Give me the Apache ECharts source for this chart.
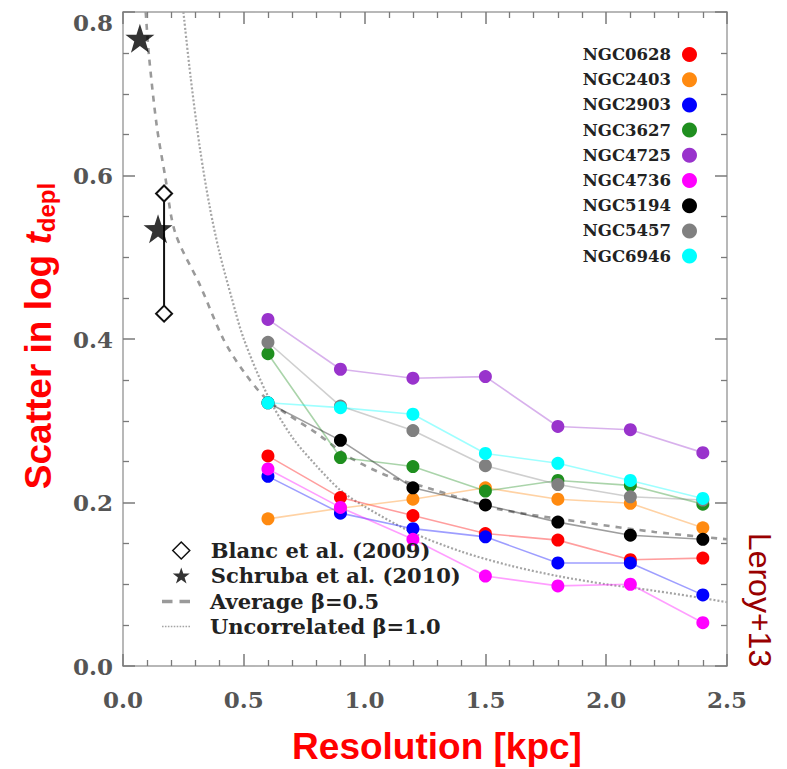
<!DOCTYPE html>
<html><head><meta charset="utf-8">
<script src="https://cdn.jsdelivr.net/npm/echarts@6/dist/echarts.min.js"></script>
<style>html,body{margin:0;padding:0;background:#fff}#c{width:787px;height:769px}</style>
</head><body><div id="c"></div>
<script>
// ---------------- data ----------------
const resolution = [0.6, 0.9, 1.2, 1.5, 1.8, 2.1, 2.4];
const galaxyNames = ['NGC0628','NGC2403','NGC2903','NGC3627','NGC4725','NGC4736','NGC5194','NGC5457','NGC6946'];
const ngc0628 = [0.257, 0.206, 0.184, 0.162, 0.154, 0.130, 0.132];
const ngc2403 = [0.180, 0.193, 0.204, 0.218, 0.204, 0.199, 0.169];
const ngc2903 = [0.232, 0.187, 0.168, 0.158, 0.126, 0.126, 0.087];
const ngc3627 = [0.382, 0.255, 0.244, 0.214, 0.227, 0.221, 0.198];
const ngc4725 = [0.424, 0.363, 0.352, 0.354, 0.293, 0.289, 0.261];
const ngc4736 = [0.241, 0.194, 0.155, 0.110, 0.098, 0.100, 0.053];
const ngc5194 = [0.322, 0.276, 0.218, 0.197, 0.176, 0.160, 0.155];
const ngc5457 = [0.396, 0.318, 0.288, 0.245, 0.222, 0.207, 0.203];
const ngc6946 = [0.322, 0.316, 0.308, 0.260, 0.248, 0.227, 0.205];
const galaxyValues = [ngc0628, ngc2403, ngc2903, ngc3627, ngc4725, ngc4736, ngc5194, ngc5457, ngc6946];

const blancX = [0.17, 0.17];
const blancY = [0.431, 0.578];
const schrubaX = [0.07, 0.145];
const schrubaY = [0.768, 0.535];

const avgX = [0.094, 0.108, 0.14, 0.174, 0.216, 0.32, 0.415, 0.5, 0.6, 0.8, 0.94, 1.1, 1.26, 1.4, 1.55, 1.9, 2.2, 2.5];
const avgY = [0.800, 0.745, 0.660, 0.600, 0.530, 0.465, 0.400, 0.360, 0.325, 0.285, 0.255, 0.232, 0.218, 0.205, 0.192, 0.176, 0.164, 0.155];
const uncX = [0.25, 0.28, 0.32, 0.36, 0.40, 0.45, 0.50, 0.60, 0.70, 0.80, 0.90, 1.0, 1.2, 1.4, 1.6, 1.8, 2.0, 2.2, 2.4, 2.5];
const uncY = [0.800, 0.720, 0.630, 0.560, 0.505, 0.450, 0.400, 0.330, 0.280, 0.245, 0.215, 0.195, 0.163, 0.140, 0.123, 0.110, 0.100, 0.092, 0.083, 0.078];

const xTickLabels = ['0.0','0.5','1.0','1.5','2.0','2.5'];
const yTickLabels = ['0.0','0.2','0.4','0.6','0.8'];
const refNames = ['Blanc et al. (2009)', 'Schruba et al. (2010)', 'Average \u03B2=0.5', 'Uncorrelated \u03B2=1.0'];

// ---------------- styles ----------------
const galaxyColors = ['#ff0000','#ff8a10','#0000ff','#1f8f1f','#9933cc','#ff00ff','#000000','#808080','#00ffff'];
const STAR = 'path://M50,2 L61.8,37.3 L99,37.6 L69.1,59.7 L80.4,95.2 L50,73.6 L19.6,95.2 L30.9,59.7 L1,37.6 L38.2,37.3 Z';
const DASH_ICON = 'path://M0,0h9v3h-9z M15,0h9v3h-9z';
let dots = '';
for (let i = 0; i < 30; i += 3) dots += 'M' + i + ',0h1.6v1.6h-1.6z ';
const DOT_ICON = 'path://' + dots;
const serifFont = 'DejaVu Serif';
const TICK_COLOR = '#7a7a7a';
const pair = (xs, ys) => xs.map((x, i) => [x, ys[i]]);

function lookupLabel(labels, step, v) {
  const i = Math.round(v / step);
  if (i >= 0 && i < labels.length && Math.abs(v - i * step) < 1e-6) return labels[i];
  return (+v).toFixed(1);
}

const chart = echarts.init(document.getElementById('c'), null, {renderer: 'svg'});

function axisParts(split, onZeroFalse) {
  const o = {
    axisLine: {show: true, lineStyle: {color: '#a0a0a0', width: 1.5}},
    axisTick: {show: true, inside: true, length: 12, lineStyle: {color: TICK_COLOR, width: 1.5}},
    minorTick: {show: true, splitNumber: split, length: 6, lineStyle: {color: TICK_COLOR, width: 1.3}},
    splitLine: {show: false},
    minorSplitLine: {show: false}
  };
  if (onZeroFalse) o.axisLine.onZero = false;
  return o;
}
const labelFont = {color: '#555', fontFamily: serifFont, fontWeight: 'bold', fontSize: 23};

const series = [];
series.push({
  name: refNames[3], type: 'line', smooth: 0.3, showSymbol: false, symbol: 'none',
  data: pair(uncX, uncY), silent: true, z: 1,
  itemStyle: {color: '#a5a5a5'},
  lineStyle: {color: '#a5a5a5', width: 2.2, type: [2, 2]}
});
series.push({
  name: refNames[2], type: 'line', smooth: 0.3, showSymbol: false, symbol: 'none',
  data: pair(avgX, avgY), silent: true, z: 1,
  itemStyle: {color: '#9a9a9a'},
  lineStyle: {color: '#9a9a9a', width: 2.6, type: [6, 6]}
});
galaxyNames.forEach((name, k) => {
  series.push({
    name: name, type: 'line', z: 3,
    data: pair(resolution, galaxyValues[k]),
    symbol: 'circle', symbolSize: 13, showSymbol: true,
    itemStyle: {color: galaxyColors[k], opacity: 1},
    lineStyle: {color: galaxyColors[k], width: 1.6, opacity: 0.38}
  });
});
series.push({
  name: refNames[0], type: 'line', z: 4,
  data: pair(blancX, blancY),
  symbol: 'emptyDiamond', symbolSize: [16, 16],
  itemStyle: {color: '#111', borderWidth: 2},
  lineStyle: {color: '#111', width: 2}
});
series.push({
  name: refNames[1], type: 'scatter', z: 5,
  data: pair(schrubaX, schrubaY),
  symbol: STAR, symbolSize: 29,
  itemStyle: {color: '#000'}
});

const option = {
  animation: false,
  backgroundColor: '#fff',
  grid: {left: 123, top: 12, right: 60, bottom: 103},
  xAxis: [
    Object.assign({
      type: 'value', min: 0, max: 2.5, interval: 0.5, position: 'bottom',
      axisLabel: Object.assign({margin: 22,
        formatter: v => lookupLabel(xTickLabels, 0.5, v)}, labelFont)
    }, axisParts(5, false)),
    Object.assign({
      type: 'value', min: 0, max: 2.5, interval: 0.5, position: 'top',
      axisLabel: {show: false}
    }, axisParts(5, true))
  ],
  yAxis: [
    Object.assign({
      type: 'value', min: 0, max: 0.8, interval: 0.2, position: 'left',
      axisLabel: Object.assign({margin: 10,
        formatter: v => {
          const s = lookupLabel(yTickLabels, 0.2, v);
          return v > 0.79 ? '{top|' + s + '}' : s;
        },
        rich: {top: Object.assign({padding: [20, 0, 0, 0]}, labelFont)}
      }, labelFont)
    }, axisParts(4, false)),
    Object.assign({
      type: 'value', min: 0, max: 0.8, interval: 0.2, position: 'right',
      axisLabel: {show: false}
    }, axisParts(4, true))
  ],
  legend: [
    {
      data: galaxyNames.map(n => ({name: n, icon: 'circle'})),
      orient: 'vertical', right: 90, top: 46, align: 'right',
      itemWidth: 27, itemHeight: 15, itemGap: 8.2, padding: 0,
      symbolKeepAspect: true, selectedMode: false,
      textStyle: {color: '#222', fontFamily: serifFont, fontWeight: 'bold', fontSize: 16.5}
    },
    {
      data: [
        {name: refNames[0], icon: 'diamond', itemStyle: {color: '#fff', borderColor: '#111', borderWidth: 1.5}},
        {name: refNames[1], icon: STAR, itemStyle: {color: '#000'}}
      ],
      orient: 'vertical', left: 172, top: 540, align: 'left',
      itemWidth: 17, itemHeight: 17, itemGap: 4, padding: 0,
      symbolKeepAspect: true, selectedMode: false,
      textStyle: {color: '#222', fontFamily: serifFont, fontWeight: 'bold', fontSize: 21, padding: [0, 0, 0, 16]}
    },
    {
      data: [
        {name: refNames[2], icon: DASH_ICON, itemStyle: {color: '#9a9a9a'}},
        {name: refNames[3], icon: DOT_ICON, itemStyle: {color: '#a5a5a5'}}
      ],
      orient: 'vertical', left: 162, top: 591, align: 'left',
      itemWidth: 28, itemHeight: 17, itemGap: 4, padding: 0,
      symbolKeepAspect: true, selectedMode: false,
      textStyle: {color: '#222', fontFamily: serifFont, fontWeight: 'bold', fontSize: 21, padding: [0, 0, 0, 15]}
    }
  ],
  graphic: [
    {
      type: 'text', x: 38, y: 336, rotation: Math.PI / 2, silent: true,
      style: {
        text: '{a|Scatter in log }{t|t}{s|depl}',
        align: 'center', verticalAlign: 'middle',
        rich: {
          a: {fill: '#ff0000', fontSize: 37, fontWeight: 'bold', fontFamily: 'Liberation Sans', lineHeight: 40},
          t: {fill: '#ff0000', fontSize: 37, fontWeight: 'bold', fontStyle: 'italic', fontFamily: 'Liberation Sans', lineHeight: 40},
          s: {fill: '#ff0000', fontSize: 24, fontWeight: 'bold', fontFamily: 'Liberation Sans', lineHeight: 22, verticalAlign: 'bottom'}
        }
      }
    },
    {
      type: 'text', x: 437, y: 746, silent: true,
      style: {text: 'Resolution [kpc]', fill: '#ff0000', align: 'center', verticalAlign: 'middle',
        font: 'bold 37px "Liberation Sans"'}
    },
    {
      type: 'text', x: 760, y: 600, rotation: -Math.PI / 2, silent: true,
      style: {text: 'Leroy+13', fill: '#990000', align: 'center', verticalAlign: 'middle',
        font: '32px "Liberation Sans"'}
    }
  ],
  series: series
};
chart.setOption(option);
</script>
</body></html>
